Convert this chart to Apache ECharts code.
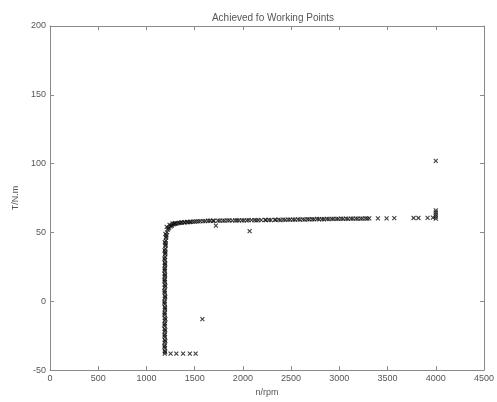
<!DOCTYPE html>
<html>
<head>
<meta charset="utf-8">
<script src="https://cdn.jsdelivr.net/npm/echarts@6/dist/echarts.min.js"></script>
<style>html,body{margin:0;padding:0;background:#fff;}#c{width:497px;height:402px;}</style>
</head>
<body>
<div id="c"></div>
<script>
const titleText = 'Achieved fo Working Points';
const xName = 'n/rpm';
const yName = 'T/N.m';
const xTicks = [0, 500, 1000, 1500, 2000, 2500, 3000, 3500, 4000, 4500];
const yTicks = [-50, 0, 50, 100, 150, 200];

// speed (rpm) and torque (N.m) of each achieved working point
const speed = [
  1190,1190,1192,1190,1188,1190,1192,1190,1190,1188,1190,1192,1190,1190,1188,1190,1192,1190,1190,1188,
  1190,1192,1190,1190,1188,1190,1192,1190,1190,1188,1190,1192,1190,1191,1192,1193,1194,1195,
  1196,1197,1198,1200,1203,1207,1213,1222,1235,1250,1265,1281,1300,1320,1345,1370,1400,1430,1460,1500,
  1540,1590,1640,1690,1740,1790,1840,1890,1940,1990,2040,2090,2140,2190,2240,2290,2340,2390,2440,2490,
  2540,2590,2640,2690,2740,2790,2840,2890,2940,2990,3040,3090,3140,3190,3240,3290,
  3400,3490,3570,3770,3820,3915,3970,4000,4000,4000,4000,4000,4000,
  1250,1310,1380,1450,1510,1580,1720,2070,
  1194,1196,1195,1197,1193,1195,1196,1194,1195,1196,1199,1205,1228,1258,1290,1335,1390,1450,1520,1610,
  1700,1810,1920,2010,2120,2230,2330,2420,2520,2620,2720,2820,2920,3020,3120,3220,3310,
  1186,1187,1186,1188,1186,1187,1186,1188,1186,1187,1190,1196,1210,1240,1270,1300,1360,1420,1480,1560,
  1660,1760,1860,1960,2060,2160,2270,2370,2470,2570,2670,2770,2870,2970,3070,3170,3270
];
const torque = [
  -38,-36,-34,-32,-30,-28,-26,-24,-22,-20,-18,-16,-14,-12,-10,-8,-6,-4,-2,0,
  2,4,6,8,10,12,14,16,18,20,22,24,26,28,30,32,34,36,
  38,40,42,44,46,48,50,52,53.5,54.5,55.2,55.8,56.2,56.6,56.9,57.1,57.3,57.5,57.7,57.8,
  58,58.2,58.5,58.5,58.6,58.6,58.7,58.6,58.7,58.8,58.8,58.9,58.8,58.9,59,59,59.1,59,59.2,59.3,
  59.3,59.4,59.4,59.5,59.5,59.6,59.6,59.7,59.8,59.8,59.9,59.9,60,60,60.1,60.1,
  60.3,60.3,60.4,60.5,60.5,60.6,60.7,60,61.5,63,64.5,66,102,
  -38,-38,-38,-38,-38,-13,55,51,
  -37,-29,-21,-13,-5,3,11,19,27,35,41,47,53,55,56.4,57,57.4,57.6,58,58.3,
  58.4,58.6,58.8,58.7,58.9,59.1,59.1,59.3,59.4,59.5,59.6,59.7,59.9,60,60,60.1,60.2,
  -33,-25,-17,-9,-1,7,15,23,31,37,43,49,54,55.5,56.5,56.8,57.3,57.6,57.9,58.3,
  58.5,58.6,58.8,58.8,59,59,59.2,59.3,59.4,59.5,59.6,59.8,59.9,59.9,60.1,60.1,60.2
];

const points = speed.map((s, i) => [s, torque[i]]);
const axisColor = '#8a8a8a';
const textColor = '#555';
const font = 'Liberation Sans';
const plain = v => String(v);

const chart = echarts.init(document.getElementById('c'));
chart.setOption({
  animation: false,
  backgroundColor: '#fff',
  title: {
    text: titleText, left: 268, top: 8, textAlign: 'center',
    textStyle: {fontSize: 10, fontWeight: 'normal', color: textColor, fontFamily: font}
  },
  grid: {left: 50, right: 8, top: 26, bottom: 27},
  xAxis: [{
    type: 'value', min: xTicks[0], max: xTicks[xTicks.length - 1], interval: 500,
    name: xName, nameLocation: 'middle', nameGap: 17,
    nameTextStyle: {fontSize: 9, color: textColor, fontFamily: font},
    axisLine: {onZero: false, lineStyle: {color: axisColor}},
    axisTick: {inside: true, length: 4, lineStyle: {color: axisColor}},
    axisLabel: {fontSize: 9, color: textColor, fontFamily: font, margin: 4, formatter: plain},
    splitLine: {show: false}
  }, {
    type: 'value', position: 'top', min: xTicks[0], max: xTicks[xTicks.length - 1], interval: 500,
    axisLine: {show: true, onZero: false, lineStyle: {color: axisColor}},
    axisTick: {show: true, inside: true, length: 4, lineStyle: {color: axisColor}},
    axisLabel: {show: false}, splitLine: {show: false}
  }],
  yAxis: [{
    type: 'value', min: yTicks[0], max: yTicks[yTicks.length - 1], interval: 50,
    name: yName, nameLocation: 'middle', nameGap: 24,
    nameTextStyle: {fontSize: 9, color: textColor, fontFamily: font},
    axisLine: {show: true, onZero: false, lineStyle: {color: axisColor}},
    axisTick: {show: true, inside: true, length: 4, lineStyle: {color: axisColor}},
    axisLabel: {fontSize: 9, color: textColor, fontFamily: font, margin: 4, formatter: plain},
    splitLine: {show: false}
  }, {
    type: 'value', position: 'right', min: yTicks[0], max: yTicks[yTicks.length - 1], interval: 50,
    axisLine: {show: true, onZero: false, lineStyle: {color: axisColor}},
    axisTick: {show: true, inside: true, length: 4, lineStyle: {color: axisColor}},
    axisLabel: {show: false}, splitLine: {show: false}
  }],
  series: [{
    type: 'scatter',
    data: points,
    symbol: 'path://M0,0L10,10M10,0L0,10',
    symbolSize: 4,
    itemStyle: {color: 'none', borderColor: '#111', borderWidth: 1.1}
  }]
});
</script>
</body>
</html>
